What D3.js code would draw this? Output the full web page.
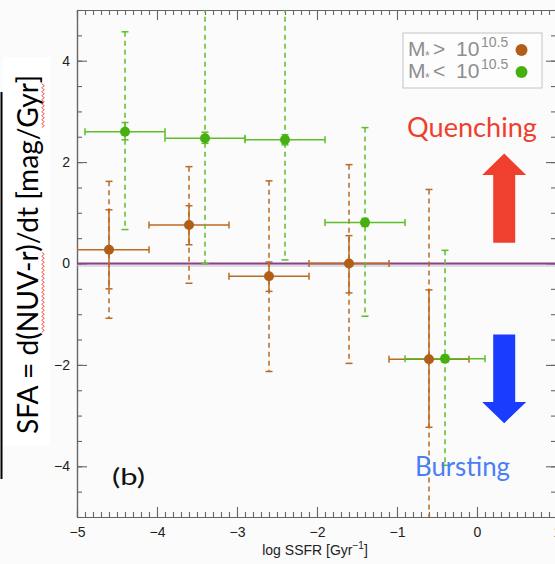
<!DOCTYPE html>
<html>
<head>
<meta charset="utf-8">
<script src="https://cdn.jsdelivr.net/npm/d3@7"></script>
<style>
  html, body { margin: 0; padding: 0; background: #fbfbfb; }
  svg { display: block; }
</style>
</head>
<body>
<svg id="chart" width="555" height="564"></svg>
<script>
// Star-formation acceleration vs specific SFR, split by stellar mass.
// Massive galaxies (M* > 10^10.5)
const highMassX      = [-4.6, -3.6, -2.6, -1.6, -0.6];
const highMassY      = [0.27, 0.76, -0.25, 0.00, -1.89];
const highMassErrLo  = [-0.50, 0.37, -0.55, -0.58, -3.23];
const highMassErrHi  = [1.06, 1.14, 0.03, 0.55, -0.52];
const highMassSpreadLo = [-1.08, -0.39, -2.13, -1.97, -5.6];
const highMassSpreadHi = [1.62, 1.91, 1.63, 1.95, 1.46];

// Lower-mass galaxies (M* < 10^10.5)
const lowMassX       = [-4.4, -3.4, -2.4, -1.4, -0.4];
const lowMassY       = [2.60, 2.47, 2.44, 0.81, -1.88];
const lowMassErrLo   = [2.44, 2.37, 2.34, 0.73, -1.95];
const lowMassErrHi   = [2.78, 2.59, 2.54, 0.89, -1.81];
const lowMassSpreadLo = [0.67, 0.00, 0.07, -1.04, -3.98];
const lowMassSpreadHi = [4.57, 5.4, 5.4, 2.68, 0.26];

const binHalfWidth = 0.5;

const xTicks = [-5, -4, -3, -2, -1, 0, 1];
const yTicks = [-4, -2, 0, 2, 4];

const colHigh = "#bb6a22", colHighDot = "#b05e18";
const colLow = "#5cbf28", colLowDot = "#46b010";

const svg = d3.select("#chart");
const x = d3.scaleLinear().domain([-5, 1]).range([77, 557]);
const y = d3.scaleLinear().domain([-5, 5]).range([517, 10]);

const fmt = d => d < 0 ? "\u2212" + Math.abs(d) : String(d);

// clip region for the plotting window
svg.append("defs").append("clipPath").attr("id", "plotClip")
  .append("rect").attr("x", x(-5)).attr("y", y(5))
  .attr("width", x(1) - x(-5)).attr("height", y(-5) - y(5));

// ---- axes (inward ticks on all four sides) ----
const axisColor = "#666";
function styleAxis(g) {
  g.selectAll("path.domain").attr("stroke", axisColor).attr("stroke-width", 1.2);
  g.selectAll(".tick line").attr("stroke", axisColor).attr("stroke-width", 1.1);
  g.selectAll("text").attr("fill", "#222")
    .style("font-family", "'Liberation Sans', Arial, sans-serif").style("font-size", "14px");
}
const xMinor = d3.range(-5, 1.0001, 0.1).map(v => +v.toFixed(2));
const yMinor = d3.range(-5, 5.0001, 0.5).map(v => +v.toFixed(2));

// bottom
svg.append("g").attr("transform", `translate(0,${y(-5)})`)
  .call(d3.axisBottom(x).tickValues(xMinor).tickSizeInner(-5).tickSizeOuter(0).tickFormat(""))
  .call(styleAxis);
svg.append("g").attr("transform", `translate(0,${y(-5)})`)
  .call(d3.axisBottom(x).tickValues(xTicks).tickSizeInner(-10).tickSizeOuter(0)
        .tickPadding(10).tickFormat(fmt))
  .call(styleAxis);
// top
svg.append("g").attr("transform", `translate(0,${y(5)})`)
  .call(d3.axisTop(x).tickValues(xMinor).tickSizeInner(-5).tickSizeOuter(0).tickFormat(""))
  .call(styleAxis);
svg.append("g").attr("transform", `translate(0,${y(5)})`)
  .call(d3.axisTop(x).tickValues(xTicks).tickSizeInner(-10).tickSizeOuter(0).tickFormat(""))
  .call(styleAxis);
// left
svg.append("g").attr("transform", `translate(${x(-5)},0)`)
  .call(d3.axisLeft(y).tickValues(yMinor).tickSizeInner(-5).tickSizeOuter(0).tickFormat(""))
  .call(styleAxis);
svg.append("g").attr("transform", `translate(${x(-5)},0)`)
  .call(d3.axisLeft(y).tickValues(yTicks).tickSizeInner(-10).tickSizeOuter(0)
        .tickPadding(7).tickFormat(fmt))
  .call(styleAxis);
// right
svg.append("g").attr("transform", `translate(${x(1) - 1},0)`)
  .call(d3.axisRight(y).tickValues(yMinor).tickSizeInner(-5).tickSizeOuter(0).tickFormat(""))
  .call(styleAxis);
svg.append("g").attr("transform", `translate(${x(1) - 1},0)`)
  .call(d3.axisRight(y).tickValues(yTicks).tickSizeInner(-10).tickSizeOuter(0).tickFormat(""))
  .call(styleAxis);

// x-axis title
const xt = svg.append("text").attr("x", 315).attr("y", 555).attr("text-anchor", "middle")
  .attr("fill", "#222").style("font-family", "'Liberation Sans', Arial, sans-serif")
  .style("font-size", "14px");
xt.append("tspan").text("log SSFR [Gyr");
xt.append("tspan").attr("dy", -6).style("font-size", "10px").text("\u22121");
xt.append("tspan").attr("dy", 6).text("]");

// ---- zero line ----
const plot = svg.append("g").attr("clip-path", "url(#plotClip)");
plot.append("line").attr("x1", x(-5)).attr("x2", x(1)).attr("y1", y(0) + 2).attr("y2", y(0) + 2)
  .attr("stroke", "#bdbdbd").attr("stroke-width", 3).attr("opacity", 0.45);
plot.append("line").attr("x1", x(-5)).attr("x2", x(1)).attr("y1", y(0)).attr("y2", y(0))
  .attr("stroke", "#8d3f90").attr("stroke-width", 2);

// ---- error bars ----
const cap = 3.5;
function drawBars(xs, ys, lo, hi, slo, shi, color) {
  const g = plot.append("g").attr("fill", "none").attr("stroke", color).attr("stroke-width", 1.5);
  xs.forEach((xv, i) => {
    const px = x(xv);
    // dashed: population spread
    g.append("line").attr("x1", px).attr("x2", px).attr("y1", y(shi[i])).attr("y2", y(slo[i]))
      .attr("stroke-dasharray", "5,4");
    [shi[i], slo[i]].forEach(v => g.append("line")
      .attr("x1", px - cap).attr("x2", px + cap).attr("y1", y(v)).attr("y2", y(v)));
    // solid: uncertainty on the mean
    g.append("line").attr("x1", px).attr("x2", px).attr("y1", y(hi[i])).attr("y2", y(lo[i]));
    [hi[i], lo[i]].forEach(v => g.append("line")
      .attr("x1", px - cap).attr("x2", px + cap).attr("y1", y(v)).attr("y2", y(v)));
    // horizontal: bin width
    const py = y(ys[i]);
    g.append("line").attr("x1", x(xv - binHalfWidth)).attr("x2", x(xv + binHalfWidth))
      .attr("y1", py).attr("y2", py);
    [xv - binHalfWidth, xv + binHalfWidth].forEach(v => g.append("line")
      .attr("x1", x(v)).attr("x2", x(v)).attr("y1", py - cap).attr("y2", py + cap));
  });
}
drawBars(highMassX, highMassY, highMassErrLo, highMassErrHi, highMassSpreadLo, highMassSpreadHi, colHigh);
drawBars(lowMassX, lowMassY, lowMassErrLo, lowMassErrHi, lowMassSpreadLo, lowMassSpreadHi, colLow);

plot.append("g").selectAll("circle").data(highMassX).join("circle")
  .attr("cx", d => x(d)).attr("cy", (d, i) => y(highMassY[i])).attr("r", 5)
  .attr("fill", colHighDot);
plot.append("g").selectAll("circle").data(lowMassX).join("circle")
  .attr("cx", d => x(d)).attr("cy", (d, i) => y(lowMassY[i])).attr("r", 5)
  .attr("fill", colLowDot);

// ---- legend ----
const leg = svg.append("g");
leg.append("rect").attr("x", 403).attr("y", 33).attr("width", 139).attr("height", 55)
  .attr("fill", "#fdfdfd").attr("stroke", "#c4c4c4").attr("stroke-width", 1);
const legendRows = [
  { sign: ">", color: colHighDot, base: 56 },
  { sign: "<", color: colLowDot, base: 78 }
];
legendRows.forEach(r => {
  const t = leg.append("text").attr("y", r.base).attr("fill", "#8e8e8e")
    .style("font-family", "'Liberation Sans', Arial, sans-serif").style("font-size", "21px");
  t.append("tspan").attr("x", 408).text("M");
  t.append("tspan").attr("x", 425).attr("dy", 4).style("font-size", "12px").text("*");
  t.append("tspan").attr("x", 433).attr("dy", -4).text(r.sign);
  t.append("tspan").attr("x", 456).text("10");
  t.append("tspan").attr("x", 481).attr("dy", -9).style("font-size", "14px").text("10.5");
  leg.append("circle").attr("cx", 521.5).attr("cy", r.base - 6).attr("r", 6).attr("fill", r.color);
});

// ---- annotations ----
const arrowX = 0.34, shaftHalf = 11, headHalf = 22;
function arrow(tipY, headBaseY, tailY, color) {
  const cx = x(arrowX);
  const pts = [
    [cx - shaftHalf, y(tailY)], [cx - shaftHalf, y(headBaseY)], [cx - headHalf, y(headBaseY)],
    [cx, y(tipY)], [cx + headHalf, y(headBaseY)], [cx + shaftHalf, y(headBaseY)],
    [cx + shaftHalf, y(tailY)]
  ];
  svg.append("path").attr("d", d3.line()(pts) + "Z").attr("fill", color);
}
arrow(2.17, 1.745, 0.41, "#ef3f2e");
arrow(-3.15, -2.73, -1.40, "#1a3cff");

const annoFont = "Lato, 'Open Sans', sans-serif";
svg.append("text").attr("x", 407).attr("y", 137).attr("textLength", 130)
  .attr("lengthAdjust", "spacingAndGlyphs").attr("fill", "#ef3e2d")
  .style("font-family", annoFont).style("font-size", "27px").text("Quenching");
svg.append("text").attr("x", 415).attr("y", 476).attr("textLength", 95)
  .attr("lengthAdjust", "spacingAndGlyphs").attr("fill", "#4a7ef6")
  .style("font-family", annoFont).style("font-size", "26px").text("Bursting");
svg.append("text").attr("x", 112).attr("y", 485).attr("textLength", 33)
  .attr("lengthAdjust", "spacingAndGlyphs").attr("fill", "#111")
  .style("font-family", annoFont).style("font-size", "24px").text("(b)");

// ---- y-axis title on a white panel ----
svg.append("rect").attr("x", 3).attr("y", 57).attr("width", 47).attr("height", 389).attr("fill", "#fff");
svg.append("line").attr("x1", 1.5).attr("x2", 1.5).attr("y1", 92).attr("y2", 479)
  .attr("stroke", "#000").attr("stroke-width", 2);
const yLabel = "SFA = d(NUV-r)/dt [mag/Gyr]";
const yl = svg.append("g").attr("transform", "translate(38,254.5) rotate(-90)");
const ylt = yl.append("text").attr("x", -179.5).attr("y", 0).attr("textLength", 359)
  .attr("lengthAdjust", "spacingAndGlyphs").attr("fill", "#000")
  .style("font-family", annoFont).style("font-size", "29px").text(yLabel);
// red wavy underline beneath "NUV-r" and "Gyr"
const node = ylt.node();
["NUV-r", "Gyr"].forEach(word => {
  const i0 = yLabel.indexOf(word), i1 = i0 + word.length - 1;
  const a = node.getStartPositionOfChar(i0).x, b = node.getEndPositionOfChar(i1).x;
  const pts = [];
  for (let k = 0, px = a; px <= b; k++, px += 2) pts.push([px, 5 + (k % 2 ? 1.3 : -1.3)]);
  yl.append("path").attr("d", d3.line()(pts)).attr("fill", "none")
    .attr("stroke", "#f0473a").attr("stroke-width", 0.9);
});
</script>
</body>
</html>
